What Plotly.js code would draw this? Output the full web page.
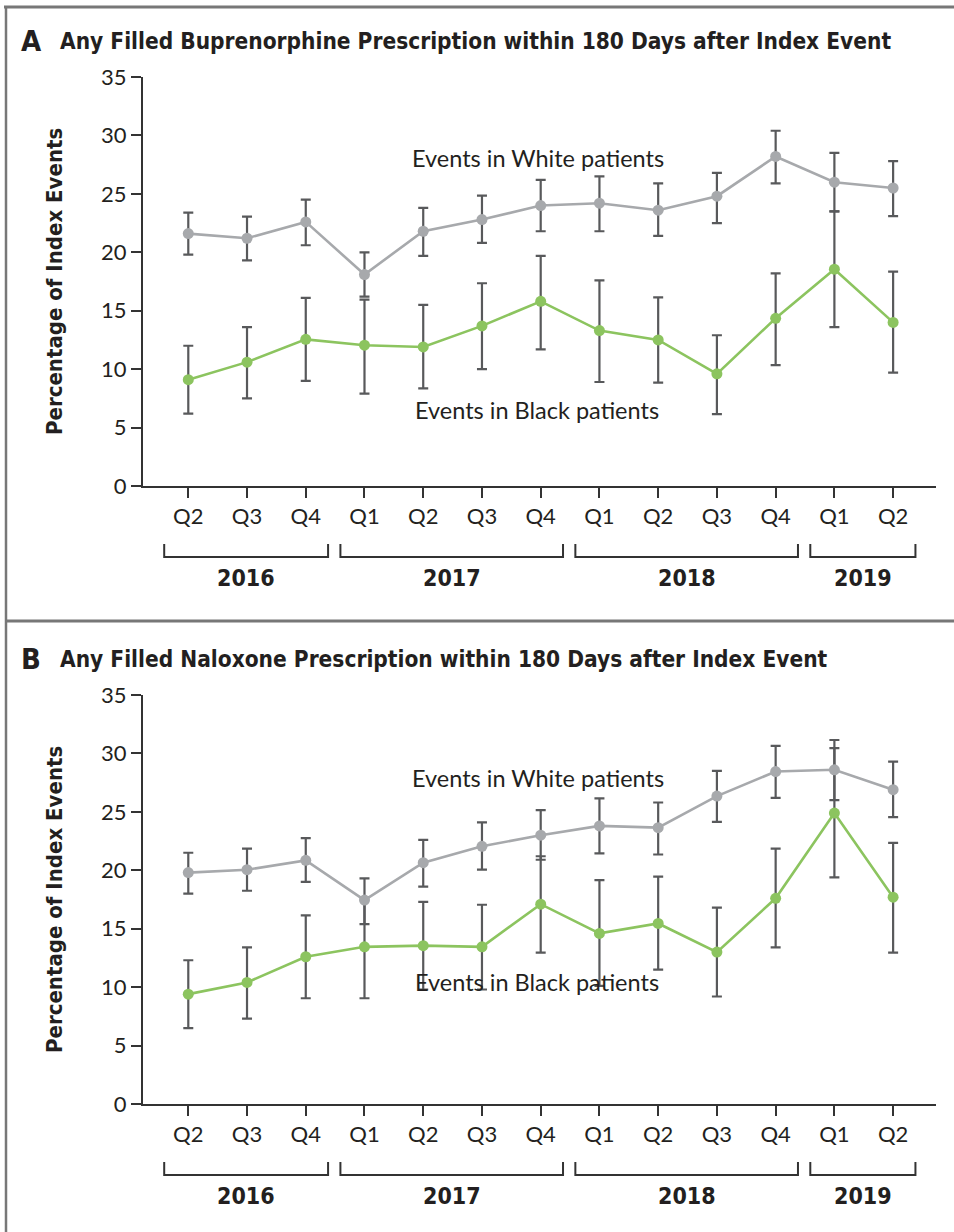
<!DOCTYPE html>
<html><head><meta charset="utf-8">
<script src="https://cdn.plot.ly/plotly-3.0.1.min.js"></script>
<style>html,body{margin:0;padding:0;background:#fff}#chart{width:954px;height:1232px}</style>
</head><body><div id="chart"></div>
<script>
// ---- data ----
const quarters = ['Q2','Q3','Q4','Q1','Q2','Q3','Q4','Q1','Q2','Q3','Q4','Q1','Q2'];
const years = ['2016','2017','2018','2019'];
const yearStart = [0,3,7,11];
const yearEnd = [2,6,10,12];
const panelTitles = ['Any Filled Buprenorphine Prescription within 180 Days after Index Event',
                     'Any Filled Naloxone Prescription within 180 Days after Index Event'];
const panelLetters = ['A','B'];
const yTitle = 'Percentage of Index Events';
const seriesNames = ['Events in White patients','Events in Black patients'];
// Panel A: buprenorphine
const bupWhite   = [21.6,21.2,22.6,18.1,21.8,22.8,24.0,24.2,23.6,24.8,28.2,26.0,25.5];
const bupWhiteHi = [23.4,23.05,24.5,20.0,23.8,24.85,26.2,26.5,25.9,26.8,30.4,28.5,27.8];
const bupWhiteLo = [19.8,19.3,20.6,16.2,19.7,20.8,21.8,21.8,21.4,22.5,25.9,23.5,23.1];
const bupBlack   = [9.1,10.6,12.55,12.05,11.9,13.7,15.8,13.3,12.5,9.6,14.35,18.55,14.0];
const bupBlackHi = [12.0,13.6,16.1,15.95,15.5,17.35,19.7,17.6,16.15,12.9,18.2,23.5,18.35];
const bupBlackLo = [6.2,7.5,9.0,7.9,8.35,10.0,11.7,8.9,8.85,6.15,10.35,13.6,9.7];
// Panel B: naloxone
const naxWhite   = [19.8,20.05,20.85,17.45,20.65,22.05,23.0,23.8,23.65,26.35,28.45,28.6,26.9];
const naxWhiteHi = [21.5,21.85,22.75,19.3,22.6,24.1,25.15,26.15,25.8,28.5,30.65,31.15,29.3];
const naxWhiteLo = [18.0,18.25,19.0,15.4,18.6,20.05,20.9,21.45,21.35,24.15,26.2,26.0,24.55];
const naxBlack   = [9.4,10.4,12.6,13.45,13.55,13.45,17.1,14.6,15.45,13.0,17.6,24.9,17.7];
const naxBlackHi = [12.3,13.4,16.15,17.7,17.3,17.05,21.2,19.15,19.45,16.8,21.85,30.45,22.35];
const naxBlackLo = [6.5,7.3,9.05,9.05,9.8,9.8,12.95,10.1,11.5,9.2,13.4,19.4,12.95];

// ---- styling / layout ----
const W = 954, H = 1232;
const px = x => x / W, py = y => 1 - y / H;
const idx = quarters.map((_, i) => i);
const GRAY = '#a7a9ac', GREEN = '#8cc45f', ERR = '#58595b', INK = '#231f20';
const fBody = 'Lato, "Open Sans", sans-serif';
const fHead = '"DejaVu Sans Condensed", "Open Sans", sans-serif';

function trace(y, hi, lo, color, xa, ya) {
  return {
    type: 'scatter', mode: 'lines+markers', x: idx, y: y, xaxis: xa, yaxis: ya,
    line: {color: color, width: 2.6},
    marker: {color: color, size: 11},
    error_y: {type: 'data', symmetric: false,
      array: hi.map((h, i) => +(h - y[i]).toFixed(3)),
      arrayminus: lo.map((l, i) => +(y[i] - l).toFixed(3)),
      color: ERR, thickness: 2.2, width: 5},
    hoverinfo: 'skip', showlegend: false
  };
}

const data = [
  trace(bupBlack, bupBlackHi, bupBlackLo, GREEN, 'x', 'y'),
  trace(bupWhite, bupWhiteHi, bupWhiteLo, GRAY, 'x', 'y'),
  trace(naxBlack, naxBlackHi, naxBlackLo, GREEN, 'x2', 'y2'),
  trace(naxWhite, naxWhiteHi, naxWhiteLo, GRAY, 'x2', 'y2')
];

const OFF = 618; // vertical offset of panel B
function xAxis(dy, anchor) {
  return {domain: [px(143), px(936)], range: [-0.771, 12.73], anchor: anchor,
    tickmode: 'array', tickvals: idx, ticktext: quarters,
    ticks: 'outside', ticklen: 10, tickwidth: 2, tickcolor: '#333',
    showline: true, linewidth: 2, linecolor: '#333', showgrid: false, zeroline: false,
    tickfont: {family: fBody, size: 22, color: INK}, ticklabelstandoff: 0, fixedrange: true};
}
function yAxis(dy, anchor) {
  return {domain: [py(486 + dy), py(77 + dy)], range: [0, 35], anchor: anchor,
    tickmode: 'linear', tick0: 0, dtick: 5,
    ticks: 'outside', ticklen: 10, tickwidth: 2, tickcolor: '#333',
    showline: true, linewidth: 2, linecolor: '#333', showgrid: false, zeroline: false,
    tickfont: {family: fBody, size: 22, color: INK}, ticklabelstandoff: 0, fixedrange: true};
}

const shapes = [];
const annotations = [];
const BORDER = '#777';
shapes.push({type: 'line', xref: 'paper', yref: 'paper', x0: px(4), x1: 1, y0: py(7), y1: py(7), line: {color: BORDER, width: 3}});
shapes.push({type: 'line', xref: 'paper', yref: 'paper', x0: px(6), x1: px(6), y0: py(6), y1: 0, line: {color: BORDER, width: 2.5}});
shapes.push({type: 'line', xref: 'paper', yref: 'paper', x0: px(6), x1: 1, y0: py(621), y1: py(621), line: {color: BORDER, width: 3}});

const PADL = 0.41, PADR = 0.38;
[0, 1].forEach(p => {
  const dy = p * OFF;
  const xr = p ? 'x2' : 'x';
  years.forEach((yr, k) => {
    const a = yearStart[k] - PADL, b = yearEnd[k] + PADR;
    const yt = py(544 + dy), yb = py(557 + dy);
    shapes.push({type: 'path', xref: xr, yref: 'paper',
      path: `M ${a},${yt} L ${a},${yb} L ${b},${yb} L ${b},${yt}`,
      line: {color: '#333', width: 2}});
    annotations.push({xref: xr, yref: 'paper', x: (a + b) / 2, y: py(578 + dy),
      text: '<b>' + yr + '</b>', showarrow: false, xanchor: 'center', yanchor: 'middle',
      font: {family: fHead, size: 23, color: INK}});
  });
  annotations.push({xref: 'paper', yref: 'paper', x: px(19), y: py(41 + dy), text: '<b>' + panelLetters[p] + '</b>',
    showarrow: false, xanchor: 'left', yanchor: 'middle', font: {family: fHead, size: 29, color: INK}});
  annotations.push({xref: 'paper', yref: 'paper', x: px(58), y: py(41 + dy), text: '<b>' + panelTitles[p] + '</b>',
    showarrow: false, xanchor: 'left', yanchor: 'middle', font: {family: fHead, size: 22.5, color: INK}});
  annotations.push({xref: 'paper', yref: 'paper', x: px(54), y: py(282 + dy), text: '<b>' + yTitle + '</b>',
    textangle: -90, showarrow: false, xanchor: 'center', yanchor: 'middle', font: {family: fHead, size: 22, color: INK}});
  annotations.push({xref: 'paper', yref: 'paper', x: px(538), y: py((p ? 160 : 158) + dy), text: seriesNames[0],
    showarrow: false, xanchor: 'center', yanchor: 'middle', font: {family: fBody, size: 23.5, color: INK}});
  annotations.push({xref: 'paper', yref: 'paper', x: px(537), y: py((p ? 364 : 410) + dy), text: seriesNames[1],
    showarrow: false, xanchor: 'center', yanchor: 'middle', font: {family: fBody, size: 23.5, color: INK}});
});

const layout = {
  width: W, height: H, margin: {l: 0, r: 0, t: 0, b: 0},
  paper_bgcolor: '#fff', plot_bgcolor: 'rgba(0,0,0,0)', showlegend: false,
  xaxis: xAxis(0, 'y'), yaxis: yAxis(0, 'x'),
  xaxis2: xAxis(OFF, 'y2'), yaxis2: yAxis(OFF, 'x2'),
  shapes: shapes, annotations: annotations
};
Plotly.newPlot('chart', data, layout, {staticPlot: true, displayModeBar: false});
</script>
</body></html>
